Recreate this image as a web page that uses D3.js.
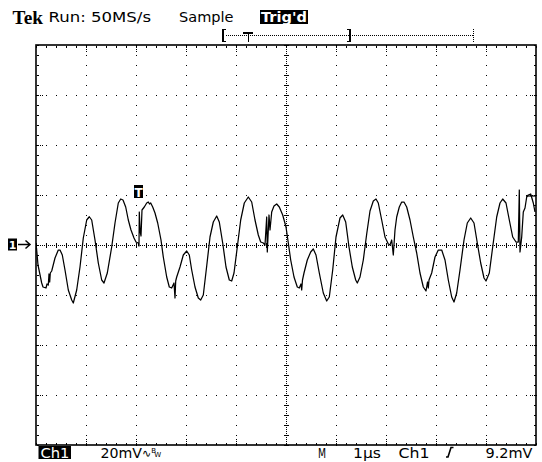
<!DOCTYPE html>
<html><head><meta charset="utf-8">
<script src="https://cdn.jsdelivr.net/npm/d3@7"></script>
<style>html,body{margin:0;padding:0;background:#fff;} svg{display:block;}</style>
</head><body>
<svg id="c" width="542" height="462"></svg>
<script>
// ---- data ----
const timeUs = [0.01,0.04,0.114,0.14,0.20,0.22,0.246,0.26,0.274,0.286,0.314,0.38,0.446,0.48,0.526,0.58,0.646,0.714,0.746,0.814,0.88,0.946,1.014,1.066,1.114,1.18,1.246,1.314,1.36,1.426,1.514,1.58,1.646,1.694,1.74,1.794,1.846,1.90,1.96,2.00,2.046,2.06,2.066,2.084,2.10,2.12,2.166,2.214,2.246,2.27,2.294,2.334,2.38,2.434,2.50,2.546,2.614,2.666,2.714,2.76,2.78,2.794,2.814,2.88,2.946,3.014,3.066,3.114,3.18,3.246,3.294,3.346,3.414,3.48,3.546,3.614,3.666,3.734,3.80,3.866,3.914,3.96,4.026,4.094,4.166,4.246,4.314,4.38,4.446,4.494,4.546,4.58,4.614,4.626,4.66,4.68,4.714,4.76,4.814,4.866,4.934,5.00,5.046,5.094,5.16,5.226,5.266,5.30,5.314,5.33,5.36,5.426,5.494,5.546,5.60,5.666,5.746,5.814,5.866,5.934,6.00,6.08,6.134,6.194,6.26,6.326,6.394,6.426,6.48,6.546,6.614,6.68,6.746,6.80,6.846,6.914,6.98,7.046,7.08,7.114,7.146,7.18,7.214,7.266,7.314,7.36,7.414,7.48,7.546,7.614,7.68,7.746,7.80,7.83,7.846,7.86,7.914,7.98,8.046,8.114,8.18,8.246,8.314,8.36,8.414,8.48,8.56,8.626,8.694,8.76,8.826,8.894,8.96,9.00,9.066,9.134,9.214,9.28,9.334,9.40,9.466,9.534,9.60,9.646,9.666,9.68,9.714,9.746,9.78,9.814,9.846,9.894,9.946,9.98];
const voltageMv = [-1.2,-8.0,-15.2,-16.8,-17.2,-15.6,-16.0,-11.6,-14.8,-11.2,-10.4,-5.2,-2.0,-2.0,-4.0,-10.0,-18.0,-22.0,-23.2,-18.0,-8.8,2.8,10.0,11.3,10.0,2.0,-7.2,-14.0,-15.2,-11.2,-0.8,8.8,16.8,18.4,18.0,15.2,10.0,6.0,2.8,1.2,0.8,-0.4,13.2,5.2,3.6,14.0,15.2,16.8,17.2,16.4,16.8,15.2,12.8,8.8,2.0,-4.8,-12.8,-16.8,-17.2,-15.2,-21.2,-14.4,-12.8,-8.8,-4.0,-2.4,-4.0,-10.0,-16.8,-21.2,-22.0,-20.0,-8.4,3.2,9.2,11.6,9.2,0.8,-8.8,-14.0,-14.4,-11.2,-0.8,10.0,16.8,19.2,17.2,10.0,4.0,1.2,0.8,0.0,11.2,-2.8,12.0,6.0,13.2,15.6,16.4,15.2,12.0,7.2,0.8,-6.0,-12.8,-16.8,-17.2,-15.6,-18.0,-14.0,-11.2,-6.0,-2.8,-1.6,-4.0,-11.2,-19.2,-22.4,-20.8,-10.0,3.2,10.8,12.0,9.2,-0.8,-8.8,-14.0,-15.2,-12.8,-6.0,4.4,13.6,17.6,18.4,16.8,10.0,3.2,0.4,0.0,2.0,-4.0,6.0,11.2,15.2,17.2,17.2,15.2,10.0,3.2,-3.2,-11.2,-16.8,-18.4,-14.8,-17.2,-14.0,-11.2,-4.8,-2.0,-2.0,-6.0,-14.0,-20.8,-22.8,-19.2,-10.0,2.0,8.8,10.8,8.8,0.8,-7.2,-13.2,-14.4,-11.2,-0.8,11.2,16.8,18.4,16.8,10.0,3.2,1.2,1.2,22.0,-2.8,3.2,13.2,14.8,19.2,20.0,20.4,16.8,13.2];
const timeRangeUs = [0, 10];
const voltRangeMv = [-80, 80];
const timeDivUs = 1, voltDivMv = 20, minorPerDiv = 5;
const triggerTimeUs = 2.06;
const headerLabels = ["Tek", "Run: 50MS/s", "Sample", "Trig'd"];
const footerLabels = ["Ch1", "20mV", "M", "1\u03bcs", "Ch1", "9.2mV"];

// ---- drawing ----
const svg = d3.select("#c");
svg.append("rect").attr("width",542).attr("height",462).attr("fill","#fff");
const x = d3.scaleLinear().domain(timeRangeUs).range([36, 536]);
const y = d3.scaleLinear().domain(voltRangeMv).range([445, 45]);

const g = svg.append("g").attr("shape-rendering","crispEdges");
const pts = [];
const px = v => Math.round(v);
function dot(a,b){ pts.push([px(a),px(b),1,1]); }
function bar(a,b,w,h){ pts.push([px(a),px(b),w,h]); }

const x0 = x(timeRangeUs[0]), x1 = x(timeRangeUs[1]);
const y0 = y(voltRangeMv[1]), y1 = y(voltRangeMv[0]);
const tMinor = d3.range(timeRangeUs[0], timeRangeUs[1]+1e-9, timeDivUs/minorPerDiv);
const vMinor = d3.range(voltRangeMv[0], voltRangeMv[1]+1e-9, voltDivMv/minorPerDiv);
const tMajor = d3.range(timeRangeUs[0]+timeDivUs, timeRangeUs[1]-1e-9, timeDivUs);
const vMajor = d3.range(voltRangeMv[0]+voltDivMv, voltRangeMv[1]-1e-9, voltDivMv);
const tMid = (timeRangeUs[0]+timeRangeUs[1])/2, vMid = 0;

// major verticals
tMajor.forEach(t => {
  if (Math.abs(t - tMid) < 1e-6) return;
  vMinor.forEach(v => dot(x(t), y(v)));
  [2,4,6].forEach(d => { dot(x(t), y0+d); dot(x(t), y1-d); });
});
// major horizontals
vMajor.forEach(v => {
  if (Math.abs(v - vMid) < 1e-6) return;
  tMinor.forEach(t => dot(x(t), y(v)));
  [2,4,6].forEach(d => { dot(x0+d, y(v)); dot(x1-d, y(v)); });
});
// center lines
for (let xx = x0; xx <= x1; xx += 2) dot(xx, y(vMid));
for (let yy = y0; yy <= y1; yy += 2) dot(x(tMid), yy);
tMinor.forEach(t => bar(x(t), y(vMid)-2, 1, 5));
vMinor.forEach(v => bar(x(tMid)-2, y(v), 5, 1));
// border ticks
tMinor.forEach(t => { bar(x(t), y0+1, 1, 2); bar(x(t), y1-2, 1, 2); });
vMinor.forEach(v => { bar(x0+1, y(v), 2, 1); bar(x1-2, y(v), 2, 1); });

g.selectAll("rect.d").data(pts).enter().append("rect").attr("class","d")
  .attr("x",d=>d[0]).attr("y",d=>d[1]).attr("width",d=>d[2]).attr("height",d=>d[3]).attr("fill","#000");

// frame
svg.append("rect").attr("x",x0).attr("y",y0).attr("width",x1-x0).attr("height",y1-y0)
  .attr("fill","none").attr("stroke","#000").attr("stroke-width",1.6);

// waveform
const data = timeUs.map((t,i)=>({t, v: voltageMv[i]}));
svg.append("path").datum(data)
  .attr("d", d3.line().x(d=>x(d.t)).y(d=>y(d.v)))
  .attr("fill","none").attr("stroke","#000").attr("stroke-width",1.25)
  .attr("stroke-linejoin","round");
// right end marker
svg.append("path").attr("d", `M${x(9.8)},${y(19.6)} H${x1}`).attr("stroke","#000").attr("stroke-width",1.2);

// trigger T marker on waveform
const tx = x(triggerTimeUs);
svg.append("rect").attr("x",tx-5).attr("y",185).attr("width",9).attr("height",13).attr("fill","#000");
svg.append("text").attr("x",tx-0.5).attr("y",196.5).attr("text-anchor","middle")
  .attr("font-family","DejaVu Sans").attr("font-weight","bold").attr("font-size",12).attr("fill","#fff").text("T");

// channel ground marker "1→"
const gy = y(0);
svg.append("rect").attr("x",8).attr("y",gy-6.5).attr("width",9).attr("height",12).attr("fill","#000");
svg.append("text").attr("x",12.5).attr("y",gy+4).attr("text-anchor","middle")
  .attr("font-family","DejaVu Sans").attr("font-weight","bold").attr("font-size",11).attr("fill","#fff").text("1");
svg.append("path").attr("d",`M18,${gy-0.5} H30 M25.5,${gy-4.5} L30,${gy-0.5} L25.5,${gy+3.5}`)
  .attr("fill","none").attr("stroke","#000").attr("stroke-width",1.5);

// header
const F = "DejaVu Sans";
function txt(s, xx, yy, w, opts={}){
  const t = svg.append("text").attr("x",xx).attr("y",yy).attr("font-family",opts.family||F)
    .attr("font-size",opts.size||14).attr("font-weight",opts.weight||"normal").attr("fill",opts.fill||"#000").text(s);
  if (w) t.attr("textLength",w).attr("lengthAdjust","spacingAndGlyphs");
  return t;
}
txt(headerLabels[0], 12.5, 23.5, 30.5, {family:"Liberation Serif", weight:"bold", size:19});
txt(headerLabels[1], 48.5, 22, 102.5);
txt(headerLabels[2], 179, 22, 54.5);
svg.append("rect").attr("x",260).attr("y",10).attr("width",48).attr("height",14).attr("fill","#000");
txt(headerLabels[3], 261, 22, 46, {fill:"#fff", weight:"bold", size:14});

// record bar at top
const bar1 = svg.append("g").attr("shape-rendering","crispEdges");
bar1.append("rect").attr("x",222).attr("y",29).attr("width",2).attr("height",13).attr("fill","#000");
bar1.append("rect").attr("x",222).attr("y",29).attr("width",4).attr("height",1).attr("fill","#000");
bar1.append("rect").attr("x",222).attr("y",41).attr("width",4).attr("height",1).attr("fill","#000");
bar1.append("rect").attr("x",349).attr("y",29).attr("width",2).attr("height",13).attr("fill","#000");
bar1.append("rect").attr("x",347).attr("y",29).attr("width",4).attr("height",1).attr("fill","#000");
bar1.append("rect").attr("x",347).attr("y",41).attr("width",4).attr("height",1).attr("fill","#000");
for (let xx=226; xx<473; xx+=2) bar1.append("rect").attr("x",xx).attr("y",35).attr("width",1).attr("height",1).attr("fill","#000");
for (let yy=29; yy<=41; yy+=2) bar1.append("rect").attr("x",473).attr("y",yy).attr("width",1).attr("height",1).attr("fill","#000");
bar1.append("rect").attr("x",243).attr("y",32).attr("width",10).attr("height",1.5).attr("fill","#000");
bar1.append("rect").attr("x",247.5).attr("y",32).attr("width",1.5).attr("height",10).attr("fill","#000");

// footer
const fy = 457.5;
svg.append("rect").attr("x",38.5).attr("y",446).attr("width",32.5).attr("height",13).attr("fill","#000");
txt(footerLabels[0], 40.5, fy, 29, {fill:"#fff", size:14.5});
txt(footerLabels[1], 100.5, fy, 41.5, {size:14.5});
const bw = svg.append("text").attr("x",142).attr("y",fy-1).attr("font-family",F).attr("fill","#000");
bw.append("tspan").attr("font-size",11).text("\u223f");
bw.append("tspan").attr("font-size",7).attr("dy",-4).text("B");
bw.append("tspan").attr("font-size",7).attr("dy",4.5).attr("dx",-1.5).text("W");
txt(footerLabels[2], 318, fy, 8, {size:14.5});
txt(footerLabels[3], 353, fy, 28, {size:14.5});
txt(footerLabels[4], 398.5, fy, 31, {size:14.5});
svg.append("path").attr("d",`M446,${fy-0.5} H448 L451,${fy-10} H453.5`).attr("fill","none").attr("stroke","#000").attr("stroke-width",1.6);
txt(footerLabels[5], 485.5, fy, 47, {size:14.5});
</script>
</body></html>
